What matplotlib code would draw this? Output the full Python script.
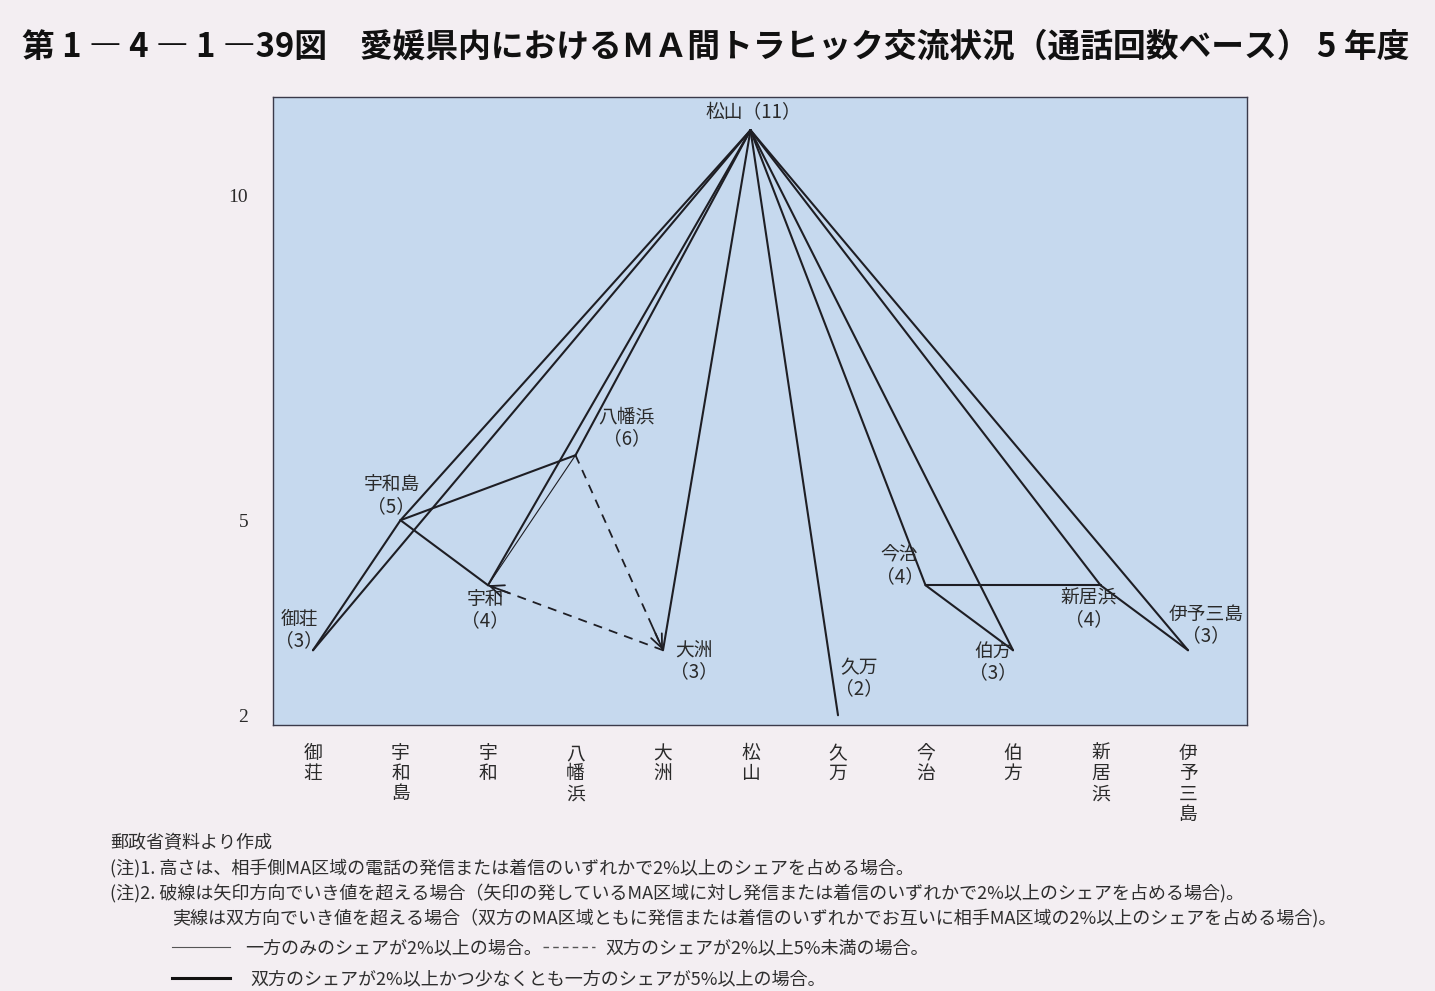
import matplotlib
matplotlib.use("Agg")
import matplotlib.pyplot as plt

plt.rcParams['font.family'] = ['Noto Sans CJK JP', 'DejaVu Sans']

# ---- data ----
nodes = ["御荘", "宇和島", "宇和", "八幡浜", "大洲", "松山", "久万", "今治", "伯方", "新居浜", "伊予三島"]
heights = [3, 5, 4, 6, 3, 11, 2, 4, 3, 4, 3]

thick_edges = [
    ("松山", "御荘"), ("松山", "宇和島"), ("松山", "宇和"), ("松山", "八幡浜"),
    ("松山", "大洲"), ("松山", "久万"), ("松山", "今治"), ("松山", "伯方"),
    ("松山", "新居浜"), ("松山", "伊予三島"),
    ("御荘", "宇和島"), ("宇和島", "八幡浜"), ("宇和島", "宇和"),
    ("今治", "新居浜"), ("今治", "伯方"), ("新居浜", "伊予三島"),
]
thin_edges = [("八幡浜", "宇和")]
dashed_arrows = [("八幡浜", "大洲"), ("大洲", "宇和")]  # (from, to)

yticks = [2, 5, 10]

title = "第 1 ― 4 ― 1 ―39図　愛媛県内におけるＭＡ間トラヒック交流状況（通話回数ベース） 5 年度"
source = "郵政省資料より作成"
note1 = "(注)1. 高さは、相手側MA区域の電話の発信または着信のいずれかで2%以上のシェアを占める場合。"
note2 = "(注)2. 破線は矢印方向でいき値を超える場合（矢印の発しているMA区域に対し発信または着信のいずれかで2%以上のシェアを占める場合)。"
note3 = "実線は双方向でいき値を超える場合（双方のMA区域ともに発信または着信のいずれかでお互いに相手MA区域の2%以上のシェアを占める場合)。"
leg1 = "一方のみのシェアが2%以上の場合。"
leg2 = "双方のシェアが2%以上5%未満の場合。"
leg3 = "双方のシェアが2%以上かつ少なくとも一方のシェアが5%以上の場合。"

# label offsets in pixels (dx, dy) relative to node point
label_offsets = {
    "御荘": (-14, 20), "宇和島": (-9, 24), "宇和": (-3, -25), "八幡浜": (51, 27),
    "大洲": (31, -11), "松山": (3, 17), "久万": (21, 37), "今治": (-26, 19),
    "伯方": (-20, -12), "新居浜": (-12, -24), "伊予三島": (18, 25),
}

W, H = 1435, 991
fig = plt.figure(figsize=(W / 100, H / 100), dpi=100)
fig.patch.set_facecolor("#f3eef2")
ax = fig.add_axes([273 / W, 1 - 725 / H, (1247 - 273) / W, (725 - 97) / H])
ax.set_facecolor("#c6d9ee")

xpos = {n: i for i, n in enumerate(nodes)}
ypos = dict(zip(nodes, heights))
line_col = "#1e1e24"

for a, b in thick_edges:
    ax.plot([xpos[a], xpos[b]], [ypos[a], ypos[b]], color=line_col, lw=1.5,
            solid_capstyle="round", zorder=3)
for a, b in thin_edges:
    ax.plot([xpos[a], xpos[b]], [ypos[a], ypos[b]], color=line_col, lw=0.8, zorder=3)
for a, b in dashed_arrows:
    ax.plot([xpos[a], xpos[b]], [ypos[a], ypos[b]], color=line_col, lw=1.3,
            linestyle=(0, (5, 4)), zorder=3)
    fx = xpos[b] + 0.12 * (xpos[a] - xpos[b])
    fy = ypos[b] + 0.12 * (ypos[a] - ypos[b])
    ax.annotate("", xy=(xpos[b], ypos[b]), xytext=(fx, fy),
                arrowprops=dict(arrowstyle="->,head_length=0.7,head_width=0.3",
                                color=line_col, lw=1.3, shrinkA=0, shrinkB=0,
                                mutation_scale=14), zorder=4)

for n in nodes:
    dx, dy = label_offsets[n]
    if n == "松山":
        txt = f"{n}（{ypos[n]}）"
    else:
        txt = f"{n}\n（{ypos[n]}）"
    ax.annotate(txt, xy=(xpos[n], ypos[n]), xytext=(dx, dy), textcoords="offset pixels",
                ha="center", va="center", fontsize=13.5, color="#2a2a2a",
                linespacing=1.05, zorder=5)

ax.set_xlim(-0.457, 10.674)
ax.set_ylim(1.85, 11.51)
ax.set_xticks(range(len(nodes)))
ax.set_xticklabels(["\n".join(n) for n in nodes], fontsize=13.5, color="#2a2a2a",
                   linespacing=0.95, va="top")
ax.set_yticks(yticks)
ax.set_yticklabels([str(v) for v in yticks], fontsize=14, color="#2a2a2a",
                   family="Liberation Serif")
ax.tick_params(axis="both", length=0)
ax.tick_params(axis="x", pad=13)
ax.tick_params(axis="y", pad=18)
for s in ax.spines.values():
    s.set_color("#3a3a4a")
    s.set_linewidth(1.0)

# title
fig.text(22 / W, 1 - 47 / H, title, fontsize=23.6, fontweight="bold", color="#111111",
         ha="left", va="center")

# footnotes
fc = "#2e2e2e"
fs = 13
fig.text(110 / W, 1 - 843 / H, source, fontsize=fs, color=fc, va="center")
fig.text(110 / W, 1 - 868 / H, note1, fontsize=fs, color=fc, va="center")
fig.text(110 / W, 1 - 893 / H, note2, fontsize=fs, color=fc, va="center")
fig.text(172 / W, 1 - 918 / H, note3, fontsize=fs, color=fc, va="center")
fig.add_artist(plt.Line2D([172 / W, 230 / W], [1 - 947 / H, 1 - 947 / H], color="#555555", lw=0.8))
fig.text(245 / W, 1 - 948 / H, leg1, fontsize=fs, color=fc, va="center")
fig.add_artist(plt.Line2D([543 / W, 595 / W], [1 - 947 / H, 1 - 947 / H], color="#555555", lw=1.0,
                          linestyle=(0, (4, 3))))
fig.text(605 / W, 1 - 948 / H, leg2, fontsize=fs, color=fc, va="center")
fig.add_artist(plt.Line2D([172 / W, 230 / W], [1 - 978 / H, 1 - 978 / H], color="#111111", lw=2.2))
fig.text(250 / W, 1 - 979 / H, leg3, fontsize=fs, color=fc, va="center")

fig.savefig("out.png", dpi=100, facecolor=fig.get_facecolor())
